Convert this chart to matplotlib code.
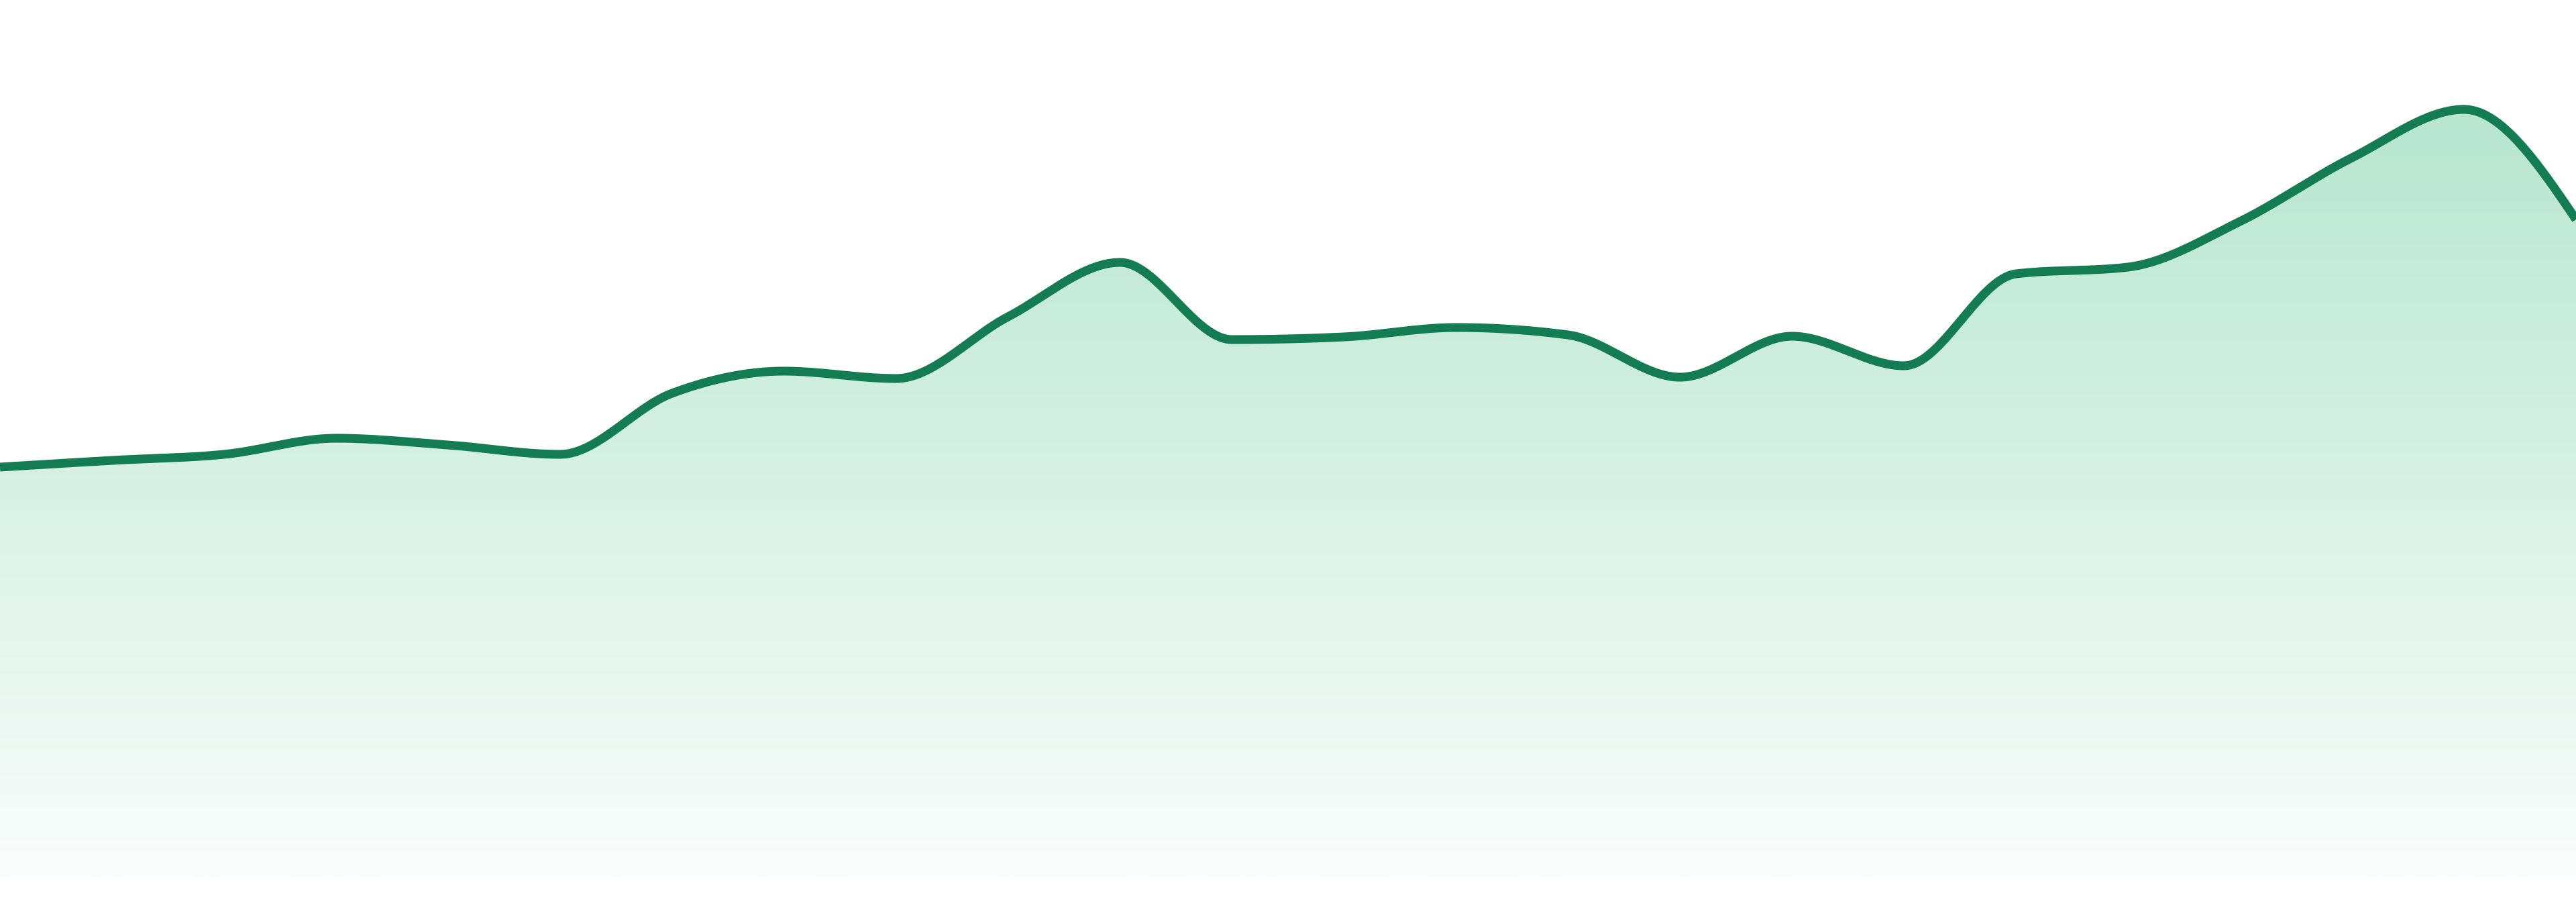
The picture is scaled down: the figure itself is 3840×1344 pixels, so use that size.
import numpy as np
import matplotlib
matplotlib.use("Agg")
import matplotlib.pyplot as plt
from matplotlib.colors import LinearSegmentedColormap
from matplotlib.patches import PathPatch

# ---- data ----
x_index = list(range(24))
values = [60.9, 61.9, 62.8, 65.2, 64.2, 62.8, 71.9, 75.2, 74.1, 83.3, 91.4, 79.9,
          80.3, 81.7, 80.6, 74.3, 80.4, 76.0, 89.7, 90.7, 97.5, 107.0, 114.2, 97.8]

LINE_COLOR = "#137c52"
TOP_FILL = "#b7e6d1"
BOTTOM_FILL = "#fafdfc"


def monotone_x(xs, ys, n=40):
    """Monotone cubic interpolation (like d3.curveMonotoneX)."""
    xs = np.asarray(xs, float)
    ys = np.asarray(ys, float)
    h = np.diff(xs)
    s = np.diff(ys) / h
    m = np.zeros_like(ys)
    for i in range(1, len(ys) - 1):
        s0, s1 = s[i - 1], s[i]
        p = (s0 * h[i] + s1 * h[i - 1]) / (h[i - 1] + h[i])
        m[i] = (np.sign(s0) + np.sign(s1)) * min(abs(s0), abs(s1), 0.5 * abs(p))
    m[0] = (3 * s[0] - m[1]) / 2
    m[-1] = (3 * s[-1] - m[-2]) / 2
    X, Y = [], []
    for i in range(len(xs) - 1):
        t = np.linspace(0, 1, n, endpoint=(i == len(xs) - 2))
        h00 = 2 * t**3 - 3 * t**2 + 1
        h10 = t**3 - 2 * t**2 + t
        h01 = -2 * t**3 + 3 * t**2
        h11 = t**3 - t**2
        X.append(xs[i] + t * h[i])
        Y.append(h00 * ys[i] + h10 * h[i] * m[i] + h01 * ys[i + 1] + h11 * h[i] * m[i + 1])
    return np.concatenate(X), np.concatenate(Y)


fig = plt.figure(figsize=(38.4, 13.44), dpi=100)
ax = fig.add_axes([0, 0, 1, 1])
ax.set_xlim(0, 23)
ax.set_ylim(-3.9, 130.5)
ax.axis("off")

cx, cy = monotone_x(x_index, values)

# gradient area fill under the curve
ymax = cy.max()
base = 0.0
poly = ax.fill_between(cx, cy, base, color="none", lw=0)
cmap = LinearSegmentedColormap.from_list("g", [BOTTOM_FILL, TOP_FILL])
grad = np.linspace(0, 1, 512).reshape(-1, 1)
img = ax.imshow(grad, extent=[0, 23, base, ymax], origin="lower", aspect="auto",
                cmap=cmap, interpolation="bicubic", zorder=1)
clip = PathPatch(poly.get_paths()[0], transform=ax.transData,
                 facecolor="none", edgecolor="none")
ax.add_patch(clip)
img.set_clip_path(clip)

ax.plot(cx, cy, color=LINE_COLOR, lw=9.4, solid_joinstyle="round",
        solid_capstyle="butt", zorder=3)

fig.savefig("out.png", dpi=100, facecolor="white")
